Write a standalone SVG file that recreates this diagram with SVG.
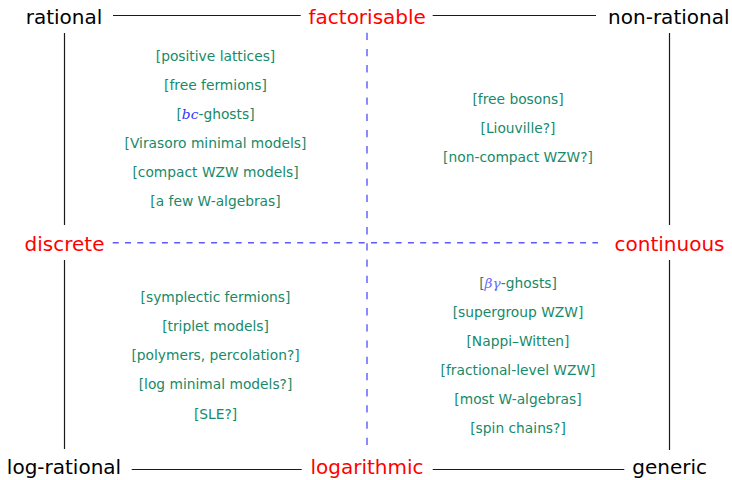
<svg xmlns="http://www.w3.org/2000/svg" width="732" height="480" viewBox="0 0 732 480">
<style>
.lbl{font-family:"DejaVu Sans",sans-serif;font-size:20px;text-anchor:middle}
.blk{fill:#000}
.red{fill:#ff0000}
.g{font-family:"DejaVu Sans",sans-serif;font-size:13.8px;fill:#178a6a;text-anchor:middle}
.m{font-family:"DejaVu Serif",serif;font-style:italic}
.solid{stroke:#1a1a1a;stroke-width:1.2;fill:none}
.dash{stroke:#5a5aff;stroke-width:1.4;fill:none}
</style>
<rect width="732" height="480" fill="#ffffff"/>
<g id="connectors">
  <line class="solid" x1="113" y1="15.5" x2="300.7" y2="15.5"/>
  <line class="solid" x1="432.7" y1="15.5" x2="596" y2="15.5"/>
  <line class="solid" x1="131.7" y1="469.5" x2="301.7" y2="469.5"/>
  <line class="solid" x1="432.7" y1="469.5" x2="624.3" y2="469.5"/>
  <line class="solid" x1="64.5" y1="33" x2="64.5" y2="225"/>
  <line class="solid" x1="64.5" y1="260" x2="64.5" y2="449"/>
  <line class="solid" x1="669.5" y1="33" x2="669.5" y2="225"/>
  <line class="solid" x1="669.5" y1="260" x2="669.5" y2="450"/>
  <line class="dash" x1="112.7" y1="242.7" x2="598" y2="242.7" stroke-dasharray="6 6.3"/>
  <line class="dash" x1="367" y1="32.7" x2="367" y2="449" stroke-dasharray="7.3 8.9"/>
</g>
<g id="rational"><text class="lbl blk" x="64" y="24">rational</text></g>
<g id="factorisable"><text class="lbl red" x="367.2" y="24">factorisable</text></g>
<g id="non-rational"><text class="lbl blk" x="668.8" y="24">non-rational</text></g>
<g id="discrete"><text class="lbl red" x="64.5" y="250.5">discrete</text></g>
<g id="continuous"><text class="lbl red" x="669.5" y="250.5">continuous</text></g>
<g id="log-rational"><text class="lbl blk" x="64" y="474">log-rational</text></g>
<g id="logarithmic"><text class="lbl red" x="367" y="474">logarithmic</text></g>
<g id="generic"><text class="lbl blk" x="669.7" y="474">generic</text></g>
<g id="q-top-left">
  <text class="g" x="215.5" y="61">[positive lattices]</text>
  <text class="g" x="215.5" y="90">[free fermions]</text>
  <text class="g" x="215.5" y="119">[<tspan class="m" fill="#3333ff">bc</tspan>-ghosts]</text>
  <text class="g" x="215.5" y="147.7">[Virasoro minimal models]</text>
  <text class="g" x="215.5" y="176.7">[compact WZW models]</text>
  <text class="g" x="215.5" y="205.7">[a few W-algebras]</text>
</g>
<g id="q-top-right">
  <text class="g" x="518" y="104">[free bosons]</text>
  <text class="g" x="518" y="132.7">[Liouville?]</text>
  <text class="g" x="518" y="161.7">[non-compact WZW?]</text>
</g>
<g id="q-bottom-left">
  <text class="g" x="215.5" y="301.7">[symplectic fermions]</text>
  <text class="g" x="215.5" y="331">[triplet models]</text>
  <text class="g" x="215.5" y="360">[polymers, percolation?]</text>
  <text class="g" x="215.5" y="389.3">[log minimal models?]</text>
  <text class="g" x="215.5" y="419">[SLE?]</text>
</g>
<g id="q-bottom-right">
  <text class="g" x="518" y="288.3">[<tspan class="m" fill="#6a6aff">βγ</tspan>-ghosts]</text>
  <text class="g" x="518" y="317.3">[supergroup WZW]</text>
  <text class="g" x="518" y="346">[Nappi–Witten]</text>
  <text class="g" x="518" y="375">[fractional-level WZW]</text>
  <text class="g" x="518" y="404">[most W-algebras]</text>
  <text class="g" x="518" y="432.7">[spin chains?]</text>
</g>
</svg>
